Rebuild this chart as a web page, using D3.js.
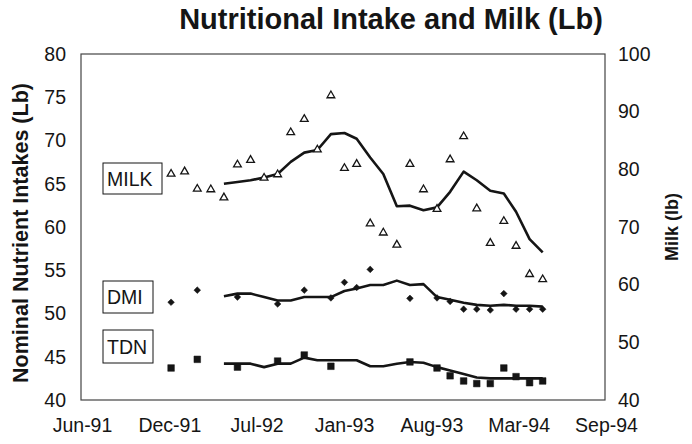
<!DOCTYPE html>
<html>
<head>
<meta charset="utf-8">
<script src="https://cdn.jsdelivr.net/npm/d3@7"></script>
<style>
  html, body { margin: 0; padding: 0; background: #fff; }
  svg { display: block; font-family: "Liberation Sans", Arial, sans-serif; }
</style>
</head>
<body>
<svg id="chart" width="692" height="444"></svg>
<script>
// ---------- DATA ----------
const months = ["1992-01","1992-02","1992-03","1992-04","1992-05","1992-06","1992-07","1992-08","1992-09","1992-10","1992-11","1992-12",
                "1993-01","1993-02","1993-03","1993-04","1993-05","1993-06","1993-07","1993-08","1993-09","1993-10","1993-11","1993-12",
                "1994-01","1994-02","1994-03","1994-04","1994-05"];
const milkObs  = [79.2,79.6,76.6,76.5,75.1,80.8,81.6,78.5,79.1,86.4,88.7,83.4,
                  92.8,80.2,80.9,70.6,69.0,66.9,80.9,76.5,73.1,81.7,85.7,73.2,
                  67.2,71.0,66.7,61.8,60.9];
const milkLine = [null,null,null,null,77.5,77.8,78.1,78.6,79.2,81.3,82.9,83.35,
                  86.1,86.3,85.3,82.05,79.2,73.6,73.7,72.9,73.4,76.1,79.6,78.1,
                  76.3,75.8,72.65,67.9,65.6];
const dmiObs   = [51.3,null,52.7,null,null,51.9,null,null,51.1,null,52.7,null,
                  51.8,53.6,53.0,55.1,null,null,51.75,null,51.8,51.4,50.5,50.5,
                  50.4,52.3,50.5,50.5,50.5];
const dmiLine  = [null,null,null,null,52.0,52.3,52.3,51.9,51.5,51.5,51.9,51.9,
                  51.9,52.6,52.9,53.3,53.3,53.8,53.3,53.4,51.9,51.6,51.25,51.0,
                  50.9,51.0,50.9,50.9,50.8];
const tdnObs   = [43.7,null,44.7,null,null,43.8,null,null,44.5,null,45.2,null,
                  43.9,null,null,null,null,null,44.4,null,43.7,42.8,42.2,41.9,
                  41.9,43.7,42.7,42.0,42.2];
const tdnLine  = [null,null,null,null,44.2,44.2,44.2,43.8,44.2,44.2,44.9,44.6,
                  44.6,44.6,44.6,43.9,43.9,44.2,44.4,44.3,43.8,43.4,43.0,42.6,
                  42.5,42.5,42.5,42.5,42.5];
const xTickDates = ["1991-06-11","1991-12-28","1992-07-15","1993-01-31","1993-08-19","1994-03-07","1994-09-23"];
const leftTicks  = [40,45,50,55,60,65,70,75,80];
const rightTicks = [40,50,60,70,80,90,100];
const legendLabels = ["MILK","DMI","TDN"];

// ---------- LAYOUT ----------
const svg = d3.select("#chart");
const L = 81, R = 605, T = 54, B = 400;
const parseM = d3.timeParse("%Y-%m");
const parseD = d3.timeParse("%Y-%m-%d");
const dates = months.map(parseM);
const tickDates = xTickDates.map(parseD);

const x = d3.scaleTime().domain([tickDates[0], tickDates[tickDates.length-1]]).range([L + 1, R + 1]);
const yL = d3.scaleLinear().domain([40, 80]).range([B, T]);
const yR = d3.scaleLinear().domain([40, 100]).range([B, T]);

const ink = "#151515";

// frame
svg.append("rect").attr("x", L).attr("y", T).attr("width", R - L).attr("height", B - T)
   .attr("fill", "none").attr("stroke", "#444").attr("stroke-width", 1.2);

// axes (no tick marks)
const fs = 19.5;
const axL = svg.append("g").attr("transform", `translate(${L},0)`)
  .call(d3.axisLeft(yL).tickValues(leftTicks).tickSize(0).tickPadding(15).tickFormat(d3.format("d")));
const axR = svg.append("g").attr("transform", `translate(${R},0)`)
  .call(d3.axisRight(yR).tickValues(rightTicks).tickSize(0).tickPadding(13).tickFormat(d3.format("d")));
const axB = svg.append("g").attr("transform", `translate(0,${B})`)
  .call(d3.axisBottom(x).tickValues(tickDates).tickSize(0).tickPadding(18).tickFormat(d3.timeFormat("%b-%y")));
[axL, axR, axB].forEach(g => {
  g.select(".domain").remove();
  g.selectAll("text").attr("font-size", fs).attr("fill", ink)
    .attr("font-family", "'Liberation Sans', Arial, sans-serif");
});

// title
svg.append("text").attr("x", 391).attr("y", 29).attr("text-anchor", "middle")
  .attr("font-size", 29).attr("font-weight", "bold").attr("fill", ink)
  .text("Nutritional Intake and Milk (Lb)");

// axis titles
svg.append("text").attr("transform", `translate(28,${(T+B)/2 + 6}) rotate(-90)`)
  .attr("text-anchor", "middle").attr("font-size", 21.5).attr("font-weight", "bold").attr("fill", ink)
  .text("Nominal Nutrient Intakes (Lb)");
svg.append("text").attr("transform", `translate(678,${(T+B)/2}) rotate(-90)`)
  .attr("text-anchor", "middle").attr("font-size", 18).attr("font-weight", "bold").attr("fill", ink)
  .text("Milk (lb)");

// ---------- SERIES ----------
function drawLine(vals, y) {
  const pts = dates.map((d, i) => ({d, v: vals[i]})).filter(p => p.v != null);
  svg.append("path").datum(pts)
    .attr("d", d3.line().x(p => x(p.d)).y(p => y(p.v)))
    .attr("fill", "none").attr("stroke", ink).attr("stroke-width", 2.6)
    .attr("stroke-linejoin", "round");
}
function drawPoints(vals, y, type, size, fill, rot) {
  const pts = dates.map((d, i) => ({d, v: vals[i]})).filter(p => p.v != null);
  svg.append("g").selectAll("path").data(pts).join("path")
    .attr("transform", p => `translate(${x(p.d)},${y(p.v)}) rotate(${rot || 0})`)
    .attr("d", d3.symbol().type(type).size(size))
    .attr("fill", fill).attr("stroke", ink).attr("stroke-width", fill === "#fff" ? 1.3 : 0.5);
}

drawLine(milkLine, yR);
drawLine(dmiLine, yL);
drawLine(tdnLine, yL);
drawPoints(milkObs, yR, d3.symbolTriangle, 26, "#fff", 0);
drawPoints(dmiObs, yL, d3.symbolSquare, 22, ink, 45);
drawPoints(tdnObs, yL, d3.symbolSquare, 44, ink, 0);

// ---------- LEGEND LABEL BOXES ----------
const boxes = [
  {t: legendLabels[0], x: 103, y: 163, w: 59, h: 31},
  {t: legendLabels[1], x: 103, y: 281, w: 50, h: 32},
  {t: legendLabels[2], x: 103, y: 330, w: 50, h: 33}
];
boxes.forEach(b => {
  svg.append("rect").attr("x", b.x).attr("y", b.y).attr("width", b.w).attr("height", b.h)
    .attr("fill", "#fff").attr("stroke", ink).attr("stroke-width", 1);
  svg.append("text").attr("x", b.x + 4).attr("y", b.y + b.h / 2 + 7)
    .attr("font-size", 19.5).attr("fill", ink).text(b.t);
});
</script>
</body>
</html>
